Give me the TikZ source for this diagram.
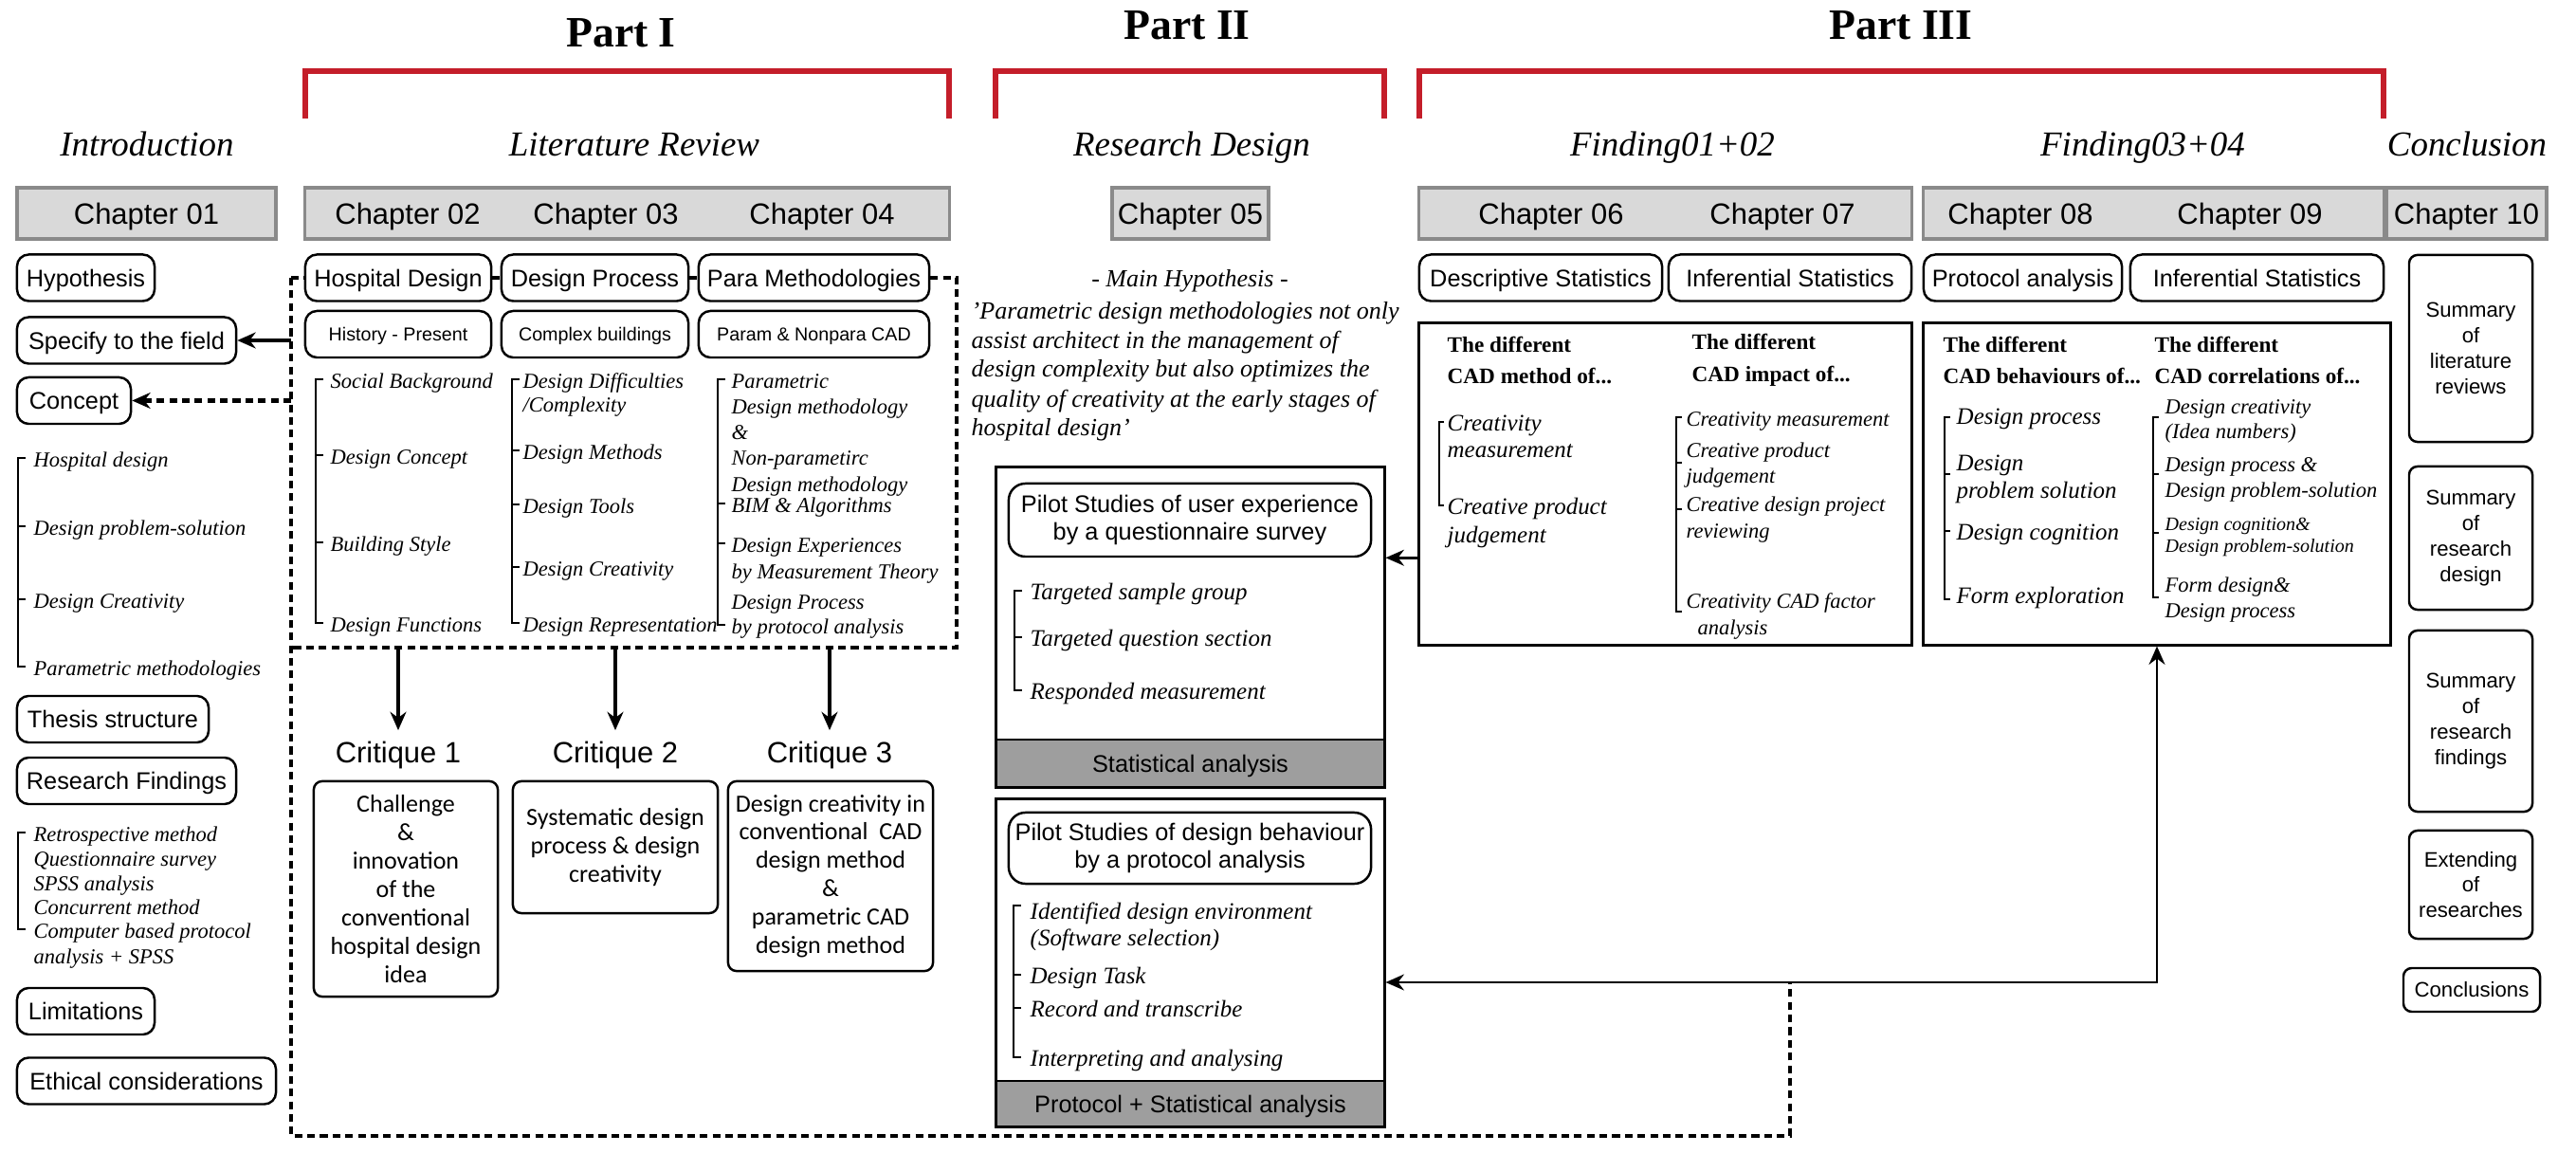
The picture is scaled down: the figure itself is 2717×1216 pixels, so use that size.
\documentclass[tikz,border=0pt]{standalone}
\usepackage{fontspec}
\setmainfont{Liberation Serif}
\setsansfont{Liberation Sans}
\newfontfamily\critfont{Carlito}
\usetikzlibrary{arrows.meta}
\definecolor{chapfill}{HTML}{D9D9D9}
\definecolor{chapline}{HTML}{8A8A8A}
\definecolor{bandfill}{HTML}{9E9E9E}
\definecolor{partred}{HTML}{C41E2A}

\begin{document}
\begin{tikzpicture}[x=0.01cm, y=-0.01cm, >={Stealth[length=5.5pt,width=4.8pt]},
  part/.style={anchor=base, font=\bfseries\fontsize{13}{15}\selectfont},
  sect/.style={anchor=base, font=\itshape\fontsize{10.5}{12}\selectfont},
  chap/.style={draw=chapline, fill=chapfill, line width=0.9pt, minimum height=0.54cm, inner sep=0pt,
    text height=6.3pt, text depth=0pt, font=\sffamily\fontsize{8.8}{10}\selectfont},
  chaplab/.style={inner sep=0pt, text height=6.3pt, text depth=0pt, font=\sffamily\fontsize{8.8}{10}\selectfont},
  rbox/.style={draw, line width=0.7pt, inner sep=0pt},
  tag/.style={rbox, rounded corners=3.5pt, minimum height=0.49cm, text height=5.2pt, text depth=0pt,
    font=\sffamily\fontsize{7.2}{8}\selectfont},
  subtag/.style={tag, text height=4pt, font=\sffamily\fontsize{5.6}{7}\selectfont},
  pilotin/.style={rbox, rounded corners=5pt, minimum width=3.82cm, align=center,
    font=\sffamily\fontsize{7.2}{8.5}\selectfont},
  boxframe/.style={rbox, line width=0.8pt},
  band/.style={boxframe, fill=bandfill, minimum width=4.09cm, text height=5.2pt, text depth=0pt,
    font=\sffamily\fontsize{7.2}{8}\selectfont},
  critlab/.style={anchor=base, font=\sffamily\fontsize{8.8}{10}\selectfont},
  critbox/.style={rbox, rounded corners=2.5pt, align=center, font=\critfont\fontsize{7.4}{8.5}\selectfont},
  sumbox/.style={rbox, rounded corners=2.5pt, align=center, minimum width=1.30cm,
    font=\sffamily\fontsize{6.3}{7.65}\selectfont},
  item/.style={anchor=west, inner sep=0pt, text height=1.5ex, text depth=.35ex,
    font=\itshape\fontsize{6.4}{7}\selectfont},
  itemL/.style={item, font=\itshape\fontsize{7.1}{8}\selectfont},
  head/.style={anchor=west, inner sep=0pt, align=left, font=\bfseries\fontsize{6.6}{9.6}\selectfont},
  brk/.style={line width=0.7pt},
  redbr/.style={draw=partred, line width=1.5pt},
  dotline/.style={line width=1.2pt, dash pattern=on 2.3pt off 1.5pt},
  bigarrow/.style={->, line width=1.2pt},
  linkarrow/.style={line width=0.8pt}]

\path[use as bounding box, fill=white] (0,0) rectangle (2717,1216);

% parts and sections
\node[part] (pI) at (655,50) {Part I};
\node[part] (pII) at (1252,42) {Part II};
\node[part] (pIII) at (2005,42) {Part III};
\draw[redbr] (322,125) |- (1001,75) -- (1001,125);
\draw[redbr] (1050,125) |- (1460,75) -- (1460,125);
\draw[redbr] (1497,125) |- (2514,75) -- (2514,125);

\node[sect] (tIntro) at (155,165) {Introduction};
\node[sect] (tLit) at (669,165) {Literature Review};
\node[sect] (tRes) at (1257,165) {Research Design};
\node[sect] (tF12) at (1764,165) {Finding01+02};
\node[sect] (tF34) at (2260,165) {Finding03+04};
\node[sect] (tConc) at (2602,165) {Conclusion};

% chapter bars
\node[chap, minimum width=2.73cm] (ch01) at (154.5,225) {Chapter 01};
\node[chap, minimum width=6.79cm] (ch24) at (661.5,225) {};
\node[chaplab] (ch02) at (430,225) {Chapter 02};
\node[chaplab] (ch03) at (639,225) {Chapter 03};
\node[chaplab] (ch04) at (867,225) {Chapter 04};
\node[chap, minimum width=1.65cm] (ch05) at (1255.5,225) {Chapter 05};
\node[chap, minimum width=5.19cm] (ch67) at (1756.5,225) {};
\node[chaplab] (ch06) at (1636,225) {Chapter 06};
\node[chaplab] (ch07) at (1880,225) {Chapter 07};
\node[chap, minimum width=4.85cm] (ch89) at (2271.5,225) {};
\node[chaplab] (ch08) at (2131,225) {Chapter 08};
\node[chaplab] (ch09) at (2373,225) {Chapter 09};
\node[chap, minimum width=1.69cm] (ch10) at (2601.5,225) {Chapter 10};

% introduction
\node[tag, minimum width=1.45cm] (hyp) at (90.5,293) {Hypothesis};
\node[tag, minimum width=2.31cm] (spec) at (133.5,359) {Specify to the field};
\node[tag, minimum width=1.20cm] (concept) at (78,422.5) {Concept};
\foreach \y/\t [count=\i] in {483/Hospital design, 555/Design problem-solution,
    632/Design Creativity, 703/Parametric methodologies}
  \node[item] (lA\i) at (35,\y) {\t};
\draw[brk] (27,483) -| (19,703) -- (27,703) (19,555) -- (27,555) (19,632) -- (27,632);
\node[tag, minimum width=2.02cm] (thesis) at (119,758.5) {Thesis structure};
\node[tag, minimum width=2.31cm] (resfind) at (133.5,823.5) {Research Findings};
\foreach \y/\t [count=\i] in {878/Retrospective method, 904/Questionnaire survey, 930/SPSS analysis,
    955/Concurrent method, 980/Computer based protocol, 1007/analysis + SPSS}
  \node[item] (lB\i) at (35,\y) {\t};
\draw[brk] (27,878) -| (19,980) -- (27,980);
\node[tag, minimum width=1.45cm] (limit) at (90.5,1066.5) {Limitations};
\node[tag, minimum width=2.73cm] (ethic) at (154.5,1140) {Ethical considerations};

% literature review
\node[tag, minimum width=1.96cm] (hosp) at (420,293) {Hospital Design};
\node[tag, minimum width=1.97cm] (proc) at (627.5,293) {Design Process};
\node[tag, minimum width=2.43cm] (para) at (858.5,293) {Para Methodologies};
\node[subtag, minimum width=1.96cm] (hist) at (420,352.5) {History - Present};
\node[subtag, minimum width=1.97cm] (cplx) at (627.5,352.5) {Complex buildings};
\node[subtag, minimum width=2.43cm] (pnp) at (858.5,352.5) {Param \& Nonpara CAD};
\foreach \y/\t [count=\i] in {400/Social Background, 480/Design Concept, 572/Building Style,
    657/Design Functions}
  \node[item] (cA\i) at (348,\y) {\t};
\draw[brk] (341,400) -| (333,657) -- (341,657) (333,480) -- (341,480) (333,572) -- (341,572);
\foreach \y/\t [count=\i] in {400/Design Difficulties, 425/{/Complexity}, 475/Design Methods,
    532/Design Tools, 598/Design Creativity, 657/Design Representation}
  \node[item] (cB\i) at (551,\y) {\t};
\draw[brk] (548,400) -| (540,657) -- (548,657) (540,475) -- (548,475) (540,532) -- (548,532)
  (540,598) -- (548,598);
\foreach \y/\t [count=\i] in {400/Parametric, 427/Design methodology, 454/\&, 481/Non-parametirc,
    509/Design methodology, 531/BIM \& Algorithms, 573/Design Experiences,
    601/by Measurement Theory, 633/Design Process, 659/by protocol analysis}
  \node[item] (cC\i) at (771,\y) {\t};
\draw[brk] (765,400) -| (757,659) -- (765,659) (757,531) -- (765,531) (757,573) -- (765,573);

\node[critlab] (c1) at (420,805) {Critique 1};
\node[critlab] (c2) at (649,805) {Critique 2};
\node[critlab] (c3) at (875,805) {Critique 3};
\node[critbox, minimum width=1.94cm, minimum height=2.27cm] (crA) at (428,937.5)
  {Challenge\\\&\\innovation\\of the\\conventional\\hospital design\\idea};
\node[critbox, minimum width=2.16cm, minimum height=1.39cm] (crB) at (649,893.5)
  {Systematic design\\process \& design\\creativity};
\node[critbox, minimum width=2.16cm, minimum height=2.00cm] (crC) at (876,924)
  {Design creativity in\\conventional~ CAD\\design method\\\&\\parametric CAD\\design method};

% research design
\node[item, anchor=base, font=\itshape\fontsize{7.4}{8}\selectfont, text height=, text depth=] (mh) at (1255,303)
  {- Main Hypothesis -};
\foreach \y/\t [count=\i] in {327/{'Parametric design methodologies not only},
    358/{assist architect in the management of}, 388/{design complexity but also optimizes the},
    420/{quality of creativity at the early stages of}, 450/{hospital design'}}
  \node[item, font=\itshape\fontsize{7.4}{8}\selectfont] (q\i) at (1024,\y) {\t};

\node[boxframe, minimum width=4.09cm, minimum height=3.37cm] (pilotA) at (1255.5,661.5) {};
\node[band, minimum height=0.50cm] (bandA) at (1255.5,805) {Statistical analysis};
\node[pilotin, minimum height=0.77cm] (pilotAin) at (1255,548.5)
  {Pilot Studies of user experience\\by a questionnaire survey};
\foreach \y/\t [count=\i] in {623/Targeted sample group, 672/Targeted question section,
    728/Responded measurement}
  \node[itemL] (pA\i) at (1086,\y) {\t};
\draw[brk] (1078,623) -| (1070,728) -- (1078,728) (1070,672) -- (1078,672);

\node[boxframe, minimum width=4.09cm, minimum height=3.45cm] (pilotB) at (1255.5,1015.5) {};
\node[band, minimum height=0.48cm] (bandB) at (1255.5,1164) {Protocol + Statistical analysis};
\node[pilotin, minimum height=0.75cm] (pilotBin) at (1255,894.5)
  {Pilot Studies of design behaviour\\by a protocol analysis};
\foreach \y/\t [count=\i] in {960/Identified design environment, 988/(Software selection),
    1028/Design Task, 1063/Record and transcribe, 1115/Interpreting and analysing}
  \node[itemL] (pB\i) at (1086,\y) {\t};
\draw[brk] (1077,955) -| (1069,1115) -- (1077,1115) (1069,1028) -- (1077,1028) (1069,1063) -- (1077,1063);

% findings
\node[tag, minimum width=2.56cm] (desc) at (1625,293) {Descriptive Statistics};
\node[tag, minimum width=2.56cm] (infA) at (1888,293) {Inferential Statistics};
\node[tag, minimum width=2.09cm] (prot) at (2133.5,293) {Protocol analysis};
\node[tag, minimum width=2.67cm] (infB) at (2380.5,293) {Inferential Statistics};

\node[boxframe, minimum width=5.19cm, minimum height=3.39cm] (f12) at (1756.5,510.5) {};
\node[head] (hA) at (1526,380) {The different\\CAD method of...};
\node[head] (hB) at (1784,380) {The different\\CAD impact of...};
\foreach \y/\t [count=\i] in {445/Creativity, 473/measurement, 533/Creative product, 563/judgement}
  \node[itemL] (fA\i) at (1526,\y) {\t};
\draw[brk] (1523,445) -| (1518,533) -- (1523,533);
\foreach \y/\t [count=\i] in {440/Creativity measurement, 473/Creative product, 500/judgement,
    530/Creative design project, 558/reviewing, 632/Creativity CAD factor}
  \node[item] (fB\i) at (1778,\y) {\t};
\node[item] (fB7) at (1790,660) {analysis};
\draw[brk] (1774,440) -| (1768,645) -- (1774,645) (1768,488) -- (1774,488) (1768,537) -- (1774,537);

\node[boxframe, minimum width=4.92cm, minimum height=3.39cm] (f34) at (2275,510.5) {};
\node[head] (hC) at (2049,380) {The different\\CAD behaviours of...};
\node[head] (hD) at (2272,380) {The different\\CAD correlations of...};
\foreach \y/\t [count=\i] in {438/Design process, 487/Design, 516/problem solution,
    560/Design cognition, 627/Form exploration}
  \node[itemL] (gA\i) at (2063,\y) {\t};
\draw[brk] (2057,440) -| (2051,632) -- (2057,632) (2051,500) -- (2057,500) (2051,560) -- (2057,560);
\foreach \y/\t [count=\i] in {427/Design creativity, 453/(Idea numbers), 488/Design process \&,
    515/Design problem-solution, 615/Form design\&, 642/Design process}
  \node[item] (gB\i) at (2283,\y) {\t};
\node[item, font=\itshape\fontsize{5.7}{6}\selectfont] (gB7) at (2283,550) {Design cognition\&};
\node[item, font=\itshape\fontsize{5.7}{6}\selectfont] (gB8) at (2283,573) {Design problem-solution};
\draw[brk] (2277,440) -| (2271,630) -- (2277,630) (2271,500) -- (2277,500) (2271,562) -- (2277,562);

% conclusion
\node[sumbox, minimum height=1.97cm] (sumLit) at (2606,367.5) {Summary\\of\\literature\\reviews};
\node[sumbox, minimum height=1.51cm] (sumDes) at (2606,567.5) {Summary\\of\\research\\design};
\node[sumbox, minimum height=1.91cm] (sumFind) at (2606,760.5) {Summary\\of\\research\\findings};
\node[sumbox, minimum height=1.14cm] (extend) at (2606,933) {Extending\\of\\researches};
\node[sumbox, minimum width=1.44cm, minimum height=0.46cm] (concls) at (2607,1044) {Conclusions};

% dotted frame and connectors
\coordinate (dTL) at (307,293);
\coordinate (dTR) at (1009,293);
\coordinate (dBR) at (1009,683);
\coordinate (dBL) at (307,683);
\coordinate (dLow) at (307,1198);
\coordinate (dCnr) at (1888,1198);
\coordinate (jn) at (1888,1036);
\draw[dotline] (dTL) -- (hosp.west) (hosp.east) -- (proc.west) (proc.east) -- (para.west)
  (para.east) -- (dTR) -- (dBR) -- (dBL);
\draw[dotline] (dTL) -- (dLow) -- (dCnr) -- (jn);
\draw[bigarrow] (spec.east -| dTL) -- (spec.east);
\draw[bigarrow, dotline] (concept.east -| dTL) -- (concept.east);
\draw[bigarrow] (c1.north |- dBL) -- (c1.north);
\draw[bigarrow] (c2.north |- dBL) -- (c2.north);
\draw[bigarrow] (c3.north |- dBL) -- (c3.north);
\draw[linkarrow, ->] (pilotAin.south -| f12.west) -- (pilotAin.south -| pilotA.east);
\draw[linkarrow, <->] (jn -| pilotB.east) -- (jn) -| (f34.south);
\end{tikzpicture}
\end{document}
